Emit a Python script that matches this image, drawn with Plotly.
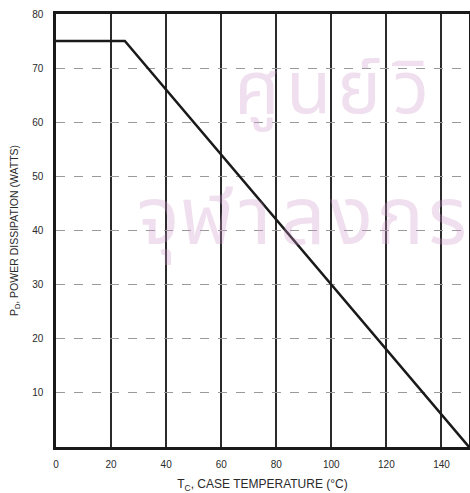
import plotly.graph_objects as go

temperature = [0, 25, 150]
power = [75, 75, 0]
x_ticks = [0, 20, 40, 60, 80, 100, 120, 140]
x_tick_labels = ["0", "20", "40", "60", "80", "100", "120", "140"]
y_ticks = [10, 20, 30, 40, 50, 60, 70, 80]
y_tick_labels = ["10", "20", "30", "40", "50", "60", "70", "80"]
watermark_line1 = ["ศู", "น", "ย์", "วิ"]
watermark_line2 = ["จุ", "ฬ", "า", "ล", "ง", "ก", "ร"]

W, H = 470, 493
fig = go.Figure()
fig.add_trace(go.Scatter(
    x=temperature, y=power, mode="lines",
    line=dict(color="#1a1a1a", width=2.5),
    showlegend=False, hoverinfo="skip", cliponaxis=False,
))

# faint watermark glyphs (pixel positions -> paper coords)
def px(xp, yp):
    return (xp - 56) / (469 - 56), (447 - yp) / (447 - 14)

wm_color = "rgba(205,150,200,0.30)"
for i, g in enumerate(watermark_line1):
    xx, yy = px(257 + i * 51, 90)
    fig.add_annotation(x=xx, y=yy, xref="paper", yref="paper", text=g, showarrow=False,
                       xanchor="center", yanchor="middle",
                       font=dict(family="Noto Sans Thai, Noto Sans, DejaVu Sans, sans-serif", size=74, color=wm_color))
for i, g in enumerate(watermark_line2):
    xx, yy = px(158 + i * 48.3, 220)
    fig.add_annotation(x=xx, y=yy, xref="paper", yref="paper", text=g, showarrow=False,
                       xanchor="center", yanchor="middle",
                       font=dict(family="Noto Sans Thai, Noto Sans, DejaVu Sans, sans-serif", size=80, color=wm_color))

tick_font = dict(family="Liberation Sans Narrow, Liberation Sans, Arial, sans-serif", size=10, color="#2a2a2a")
fig.update_layout(
    width=W, height=H,
    margin=dict(l=56, r=1, t=14, b=46, autoexpand=False),
    paper_bgcolor="white", plot_bgcolor="white",
    xaxis=dict(
        range=[0, 150], tickmode="array", tickvals=x_ticks, ticktext=x_tick_labels,
        showgrid=True, gridcolor="#2a2a2a", gridwidth=1.6,
        showline=True, linecolor="#1a1a1a", linewidth=2.5, mirror=True,
        ticks="", tickfont=tick_font, zeroline=False, automargin=False, ticklabelstandoff=6,
        title=dict(text="T<sub>C</sub>, CASE TEMPERATURE (°C)",
                   font=dict(family="Liberation Sans, Arial, sans-serif", size=12, color="#2a2a2a"), standoff=12),
    ),
    yaxis=dict(
        range=[0, 80], tickmode="array", tickvals=y_ticks, ticktext=y_tick_labels,
        showgrid=True, gridcolor="#9a9a9a", gridwidth=1, griddash="dash",
        showline=True, linecolor="#1a1a1a", linewidth=2.5, mirror=True,
        ticks="", tickfont=tick_font, zeroline=False, automargin=False, ticklabelstandoff=8,
        title=dict(text="P<sub>D</sub>, POWER DISSIPATION (WATTS)",
                   font=dict(family="Liberation Sans, Arial, sans-serif", size=10.5, color="#2a2a2a"), standoff=12),
    ),
)

fig.write_html("out.html", config={"displayModeBar": False},
               post_script="document.body.style.margin='0';document.body.style.overflow='hidden';")
